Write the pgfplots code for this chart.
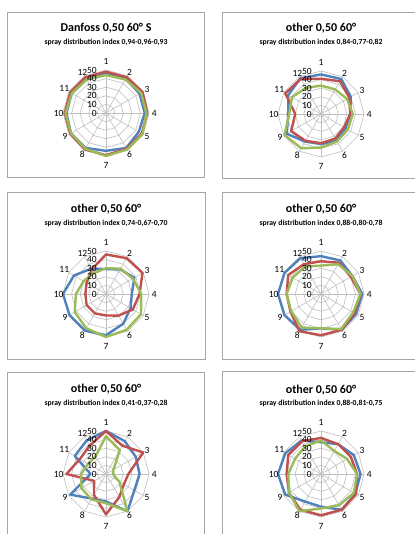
\documentclass[border=0pt]{standalone}
\usepackage{pgfplots}
\pgfplotsset{compat=1.18}
\usepgfplotslibrary{polar}
\usepackage{pgfplotstable}
\usepackage{fontspec}
\setmainfont{Carlito}
\definecolor{sb}{HTML}{4F81BD}
\definecolor{sr}{HTML}{C0504D}
\definecolor{sg}{HTML}{9BBB59}
\definecolor{gridc}{HTML}{BFBFBF}
\definecolor{boxc}{HTML}{A6A6A6}

% columns: angle of spoke (spoke 1 at top, clockwise), blue, red, green
\pgfplotstableread{
a   b  r  g
90  46 48 44
60  46 48 45
30  45 49 47
0   45 48 47
330 44 48 49
300 47 48 49
270 44 49 50
240 47 49 48
210 47 48 47
180 46 48 47
150 46 48 46
120 45 48 45
}\tA
\pgfplotstableread{
a   b  r  g
90  46 41 33
60  47 44 33
30  40 38 35
0   34 34 37
330 33 31 36
300 36 33 37
270 35 34 39
240 37 36 46
210 46 40 49
180 38 30 37
150 44 48 39
120 48 47 35
}\tB
\pgfplotstableread{
a   b  r  g
90  29 46 30
60  33 48 34
30  38 49 36
0   30 39 41
330 33 36 47
300 40 29 48
270 48 25 50
240 49 26 46
210 49 26 42
180 50 24 35
150 43 26 30
120 34 33 28
}\tC
\pgfplotstableread{
a   b  r  g
90  44 38 33
60  45 42 40
30  42 40 42
0   48 46 46
330 47 45 43
300 48 48 47
270 40 48 40
240 48 50 45
210 49 41 40
180 50 40 40
150 49 44 38
120 48 40 37
}\tD
\pgfplotstableread{
a   b  r  g
90  50 50 44
60  44 38 32
30  40 50 10
0   39 26 8
330 38 24 18
300 50 31 50
270 32 47 34
240 33 28 34
210 48 16 33
180 18 46 29
150 42 35 24
120 45 38 24
}\tE
\pgfplotstableread{
a   b  r  g
90  37 42 39
60  40 40 31
30  44 40 35
0   46 42 42
330 46 47 44
300 48 48 42
270 38 48 40
240 37 48 50
210 48 43 43
180 50 40 38
150 48 44 35
120 45 44 37
}\tF

\tikzset{lab/.style={font=\fontsize{9.5}{10}\selectfont, inner sep=0pt}}

% #1 cx, #2 cy (from top), #3 title y, #4 subtitle y, #5 title, #6 subtitle, #7 table
\newcommand{\radar}[7]{%
  \node[font=\bfseries\fontsize{12}{14}\selectfont] at (#1pt,534pt-#3pt) {#5};
  \node[font=\bfseries\fontsize{7.7}{9}\selectfont] at (#1pt,534pt-#4pt) {#6};
  \begin{polaraxis}[at={(#1pt,534pt-#2pt)}, anchor=center,
      width=86pt, height=86pt, scale only axis,
      xmin=0, xmax=360, ymin=0, ymax=50, hide axis, clip=false]
    \pgfplotsinvokeforeach{10,20,30,40,50}{%
      \addplot[gridc, line width=0.6pt] coordinates {(90,##1)(60,##1)(30,##1)(0,##1)(330,##1)(300,##1)(270,##1)(240,##1)(210,##1)(180,##1)(150,##1)(120,##1)} -- cycle;}
    \pgfplotsinvokeforeach{90,60,30,0,330,300,270,240,210,180,150,120}{%
      \addplot[gridc, line width=0.6pt] coordinates {(##1,0)(##1,50)};}
    \addplot[sb, line width=2.4pt, line join=round] table[x=a, y=b] {#7} -- cycle;
    \addplot[sr, line width=2.4pt, line join=round] table[x=a, y=r] {#7} -- cycle;
    \addplot[sg, line width=2.4pt, line join=round] table[x=a, y=g] {#7} -- cycle;
    \node[lab] at (axis cs:90,60) {1};
    \node[lab] at (axis cs:60,55) {2};
    \node[lab] at (axis cs:30,55) {3};
    \node[lab] at (axis cs:0,56) {4};
    \node[lab] at (axis cs:330,55) {5};
    \node[lab] at (axis cs:300,55) {6};
    \node[lab] at (axis cs:270,61) {7};
    \node[lab] at (axis cs:240,55) {8};
    \node[lab] at (axis cs:210,55) {9};
    \node[lab] at (axis cs:180,55) {10};
    \node[lab] at (axis cs:150,56) {11};
    \node[lab] at (axis cs:120,55) {12};
    \node[lab, anchor=east, xshift=-9pt] at (axis cs:90,0) {0};
    \node[lab, anchor=east, xshift=-9pt] at (axis cs:90,10) {10};
    \node[lab, anchor=east, xshift=-9pt] at (axis cs:90,20) {20};
    \node[lab, anchor=east, xshift=-9pt] at (axis cs:90,30) {30};
    \node[lab, anchor=east, xshift=-9pt] at (axis cs:90,40) {40};
    \node[lab, anchor=east, xshift=-9pt] at (axis cs:90,50) {50};
  \end{polaraxis}%
}

\begin{document}
\begin{tikzpicture}
  \useasboundingbox (0,0) rectangle (414pt,534pt);
  \fill[white] (0,0) rectangle (414pt,534pt);
  \begin{scope}[boxc, line width=0.8pt]
    \draw (7pt,534pt-12pt) rectangle (204pt,534pt-177pt);
    \draw (222pt,534pt-12pt) rectangle (430pt,534pt-178pt);
    \draw (7pt,534pt-192pt) rectangle (205pt,534pt-359pt);
    \draw (222pt,534pt-192pt) rectangle (430pt,534pt-359pt);
    \draw (7pt,534pt-372pt) rectangle (204pt,-11pt);
    \draw (222pt,534pt-371pt) rectangle (430pt,-11pt);
  \end{scope}
  \radar{106}{113}{28.3}{42.7}{Danfoss 0,50 60° S}{spray distribution index 0,94-0,96-0,93}{\tA}
  \radar{321}{114}{28.3}{42.7}{other 0,50 60°}{spray distribution index 0,84-0,77-0,82}{\tB}
  \radar{106}{294}{209.5}{223.5}{other 0,50 60°}{spray distribution index 0,74-0,67-0,70}{\tC}
  \radar{321}{294}{209}{223}{other 0,50 60°}{spray distribution index 0,88-0,80-0,78}{\tD}
  \radar{106}{474}{389.5}{403.7}{other 0,50 60°}{spray distribution index 0,41-0,37-0,28}{\tE}
  \radar{321}{474}{390}{403.7}{other 0,50 60°}{spray distribution index 0,88-0,81-0,75}{\tF}
\end{tikzpicture}
\end{document}
